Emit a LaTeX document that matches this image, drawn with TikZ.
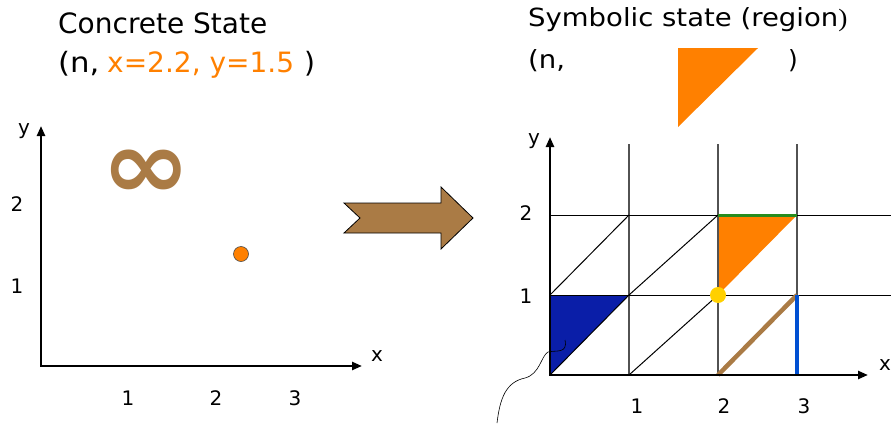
\documentclass[tikz,border=0pt]{standalone}
\usepackage{fontspec}
\usepackage{graphicx}
\setmainfont{DejaVu Sans}
\usetikzlibrary{arrows.meta}

\definecolor{orng}{RGB}{255,128,0}
\definecolor{brwn}{RGB}{170,123,69}
\definecolor{navy}{RGB}{10,30,168}
\definecolor{lblue}{RGB}{0,80,210}
\definecolor{grn}{RGB}{40,140,30}
\definecolor{gold}{RGB}{255,208,0}

\newcommand{\wider}[2]{\scalebox{#1}[1]{#2}}

\tikzset{
  axis/.style={line width=2.4pt,>={Triangle[length=10pt,width=8pt]}},
  lbl/.style={font=\fontsize{20}{22}\selectfont,inner sep=0pt},
  ttl/.style={anchor=base west,inner sep=0pt,font=\fontsize{28}{30}\selectfont},
  sttl/.style={ttl,font=\fontsize{25}{28}\selectfont},
  vline/.style={draw=black!68,line width=1.6pt},
  hline/.style={line width=1pt},
  diag/.style={line width=1pt}
}

\begin{document}
\begin{tikzpicture}[x=1pt,y=-1pt]
\useasboundingbox (0,0) rectangle (891,423);
% concrete state
\node[ttl] (ct) at (58,33) {Concrete State};
\node[ttl] (cv) at (58,72) {\wider{1.1}{(n,}};
\node[ttl,text=orng] (cval) at (107,72) {x=2.2, y=1.5};
\node[ttl] (cend) at (304,72) {)};
\coordinate (O) at (41,366); \coordinate (Y) at (41,126); \coordinate (X) at (362,366);
\draw[axis,<->] (Y)--(O)--(X);
\node[lbl] (cy) at (24,131) {y}; \node[lbl] (cx) at (377,356) {x};
\foreach \t/\xx in {1/128,2/216,3/295}{\node[lbl] (cx\t) at (\xx,398) {\t};}
\foreach \t/\yy in {1/286,2/204}{\node[lbl] (cy\t) at (17,\yy) {\t};}
\node[text=brwn,inner sep=0pt,font=\fontsize{96}{96}\selectfont\bfseries] (inf) at (146,174) {\wider{1.12}{∞}};
\draw[fill=orng,draw=black!70,line width=0.6pt] (241,254) circle (7.5);
% big arrow
\draw[fill=brwn,line width=0.8pt] (344,203)--(441,203)--(441,187)--(473,218)--(441,249)--(441,233)--(344,233)--(360,218)--cycle;
% symbolic state
\node[sttl] (st) at (528,27) {\wider{1.1}{Symbolic state (region{\fontspec{Liberation Serif})}}};
\node[sttl] (sv) at (528,68) {\wider{1.1}{(n,}};
\node[sttl] (sp) at (788,68) {)};
\fill[orng] (678,48)--(758,48)--(678,127)--cycle;
\foreach \i/\xx in {0/550,1/629,2/718,3/797}{
  \coordinate (t\i) at (\xx,144);
  \foreach \j/\yy in {0/375,1/295,2/215}{\coordinate (g\i\j) at (\xx,\yy);}
}
\coordinate (e1) at (891,295); \coordinate (e2) at (891,215);
\fill[navy] (g01)--(g11)--(g00)--cycle;
\fill[orng] (g22)--(g32)--(g21)--cycle;
\foreach \i in {1,2,3}{\draw[vline] (t\i)--(g\i0);}
\draw[hline] (g01)--(e1); \draw[hline] (g02)--(e2);
\draw[diag] (g00)--(g11); \draw[diag] (g10)--(g21);
\draw[diag] (g01)--(g12); \draw[diag] (g11)--(g22);
\draw[brwn,line width=4.5pt] (g20)--(g31);
\draw[lblue,line width=4.5pt] (g30)--(g31);
\draw[grn,line width=3pt] (g22)--(g32);
\fill[gold] (g21) circle (8);
\coordinate (Y2) at (550,137); \coordinate (X2) at (868,375);
\draw[axis,<->] (Y2)--(g00)--(X2);
\node[lbl] (sy) at (534,141) {y}; \node[lbl] (sx) at (885,365) {x};
\foreach \t/\xx in {1/637,2/724,3/804}{\node[lbl] (sx\t) at (\xx,406) {\t};}
\foreach \t/\yy in {1/296,2/213}{\node[lbl] (sy\t) at (526,\yy) {\t};}
\draw[line width=0.6pt] (497,423) .. controls (500,398) and (506,382) .. (525,378) .. controls (540,374) and (541,356) .. (548,352) .. controls (556,350) and (568,354) .. (565,340);
\end{tikzpicture}
\end{document}
